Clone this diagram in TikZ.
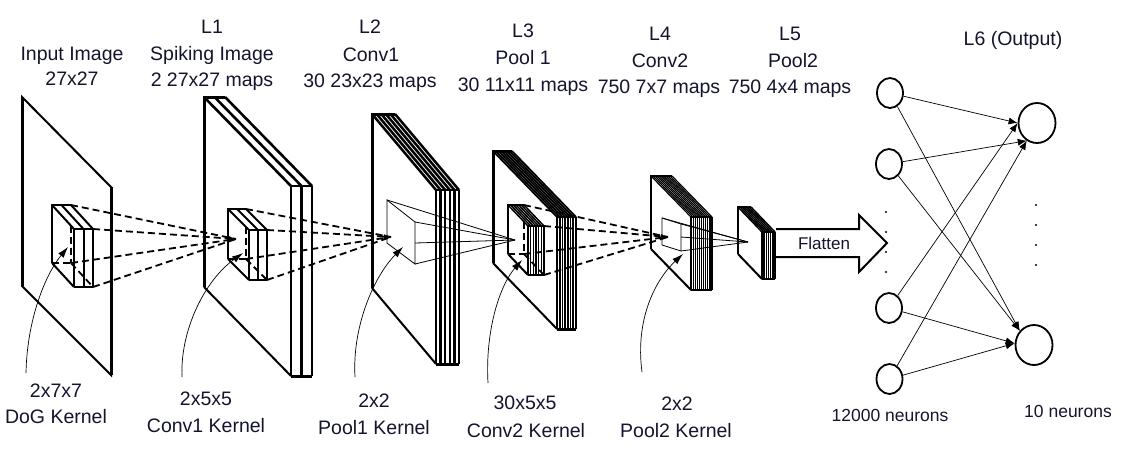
\documentclass[tikz,border=0pt]{standalone}
\usepackage{fontspec}
\setmainfont{Liberation Sans}
\usetikzlibrary{arrows.meta,shapes.geometric}
\definecolor{txt}{RGB}{20,20,45}
% #1 x0, #2 yT, #3 yB, #4 w, #5 h, #6 t, #7 n, #8 edge width, #9 stripe width
\newcommand{\mapslab}[9]{%
  \fill[white] (#1,#2) -- ++(#6,0) -- ({#1+#4+#6},{#2+#5}) -- ({#1+#4+#6},{#3+#5}) -- ({#1+#4},{#3+#5}) -- (#1,#3) -- cycle;
  \foreach \k in {0,...,#7} {
    \draw[line width=#9] ({#1+\k*#6/#7},#2) -- ({#1+#4+\k*#6/#7},{#2+#5});
    \draw[line width=#9] ({#1+#4+\k*#6/#7},{#2+#5}) -- ({#1+#4+\k*#6/#7},{#3+#5});
  }
  \draw[line width=#9] ({#1+#4},{#2+#5}) -- ++(#6,0);
  \draw[line width=2pt] (#1,#3) -- ({#1+#4},{#3+#5});
  \draw[line width=#8] (#1,#3) -- (#1,#2) -- ++(#6,0);
  \draw[line width=#8] ({#1+#4},{#3+#5}) -- ++(#6,0);
}
% hidden edges of a kernel box: #1 x0, #2 yT, #3 yB, #4 w, #5 h, #6 t
\newcommand{\hiddenedges}[6]{%
  \draw[kdash] ({#1+#6},{#2+#5*#6/#4}) -- ({#1+#6},#3);
  \draw[kdash] (#1,#3) -- ({#1+#6},#3);
  \draw[kdash] ({#1+#6},#3) -- ({#1+#4+#6},{#3+#5});
}
\begin{document}
\begin{tikzpicture}[x=1pt,y=-1pt,line join=miter,
  lbl/.style={font=\fontsize{19.5}{22}\selectfont, text=txt, anchor=base, inner sep=0pt},
  nlbl/.style={font=\fontsize{17.5}{20}\selectfont, text=txt, anchor=base, inner sep=0pt},
  kdash/.style={dash pattern=on 7pt off 4pt, line width=1.8pt},
  thinl/.style={line width=0.8pt},
  neuron/.style={ellipse, draw, line width=1.8pt, minimum width=26pt, minimum height=30pt, inner sep=0pt},
  outn/.style={ellipse, draw, line width=1.8pt, minimum width=37pt, minimum height=40pt, inner sep=0pt},
  netarrow/.style={-{Latex[length=9pt,width=7pt]}, line width=0.7pt},
  pointer/.style={-{Latex[length=11pt,width=7pt]}, line width=0.7pt},
  cvtip/.style={-{Latex[length=7pt,width=5pt]}},
]
\useasboundingbox (0,0) rectangle (1126,451);

% ---------- top labels ----------
\node[lbl] (tIn1) at (72,60) {Input Image};
\node[lbl] (tIn2) at (72,85) {27x27};
\node[lbl] (tL1a) at (212,33) {L1};
\node[lbl] (tL1b) at (212,60) {Spiking Image};
\node[lbl] (tL1c) at (212,86) {2 27x27 maps};
\node[lbl] (tL2a) at (370,33) {L2};
\node[lbl] (tL2b) at (371,61) {Conv1};
\node[lbl] (tL2c) at (370,87) {30 23x23 maps};
\node[lbl] (tL3a) at (523,37) {L3};
\node[lbl] (tL3b) at (523,64) {Pool 1};
\node[lbl] (tL3c) at (523,91) {30 11x11 maps};
\node[lbl] (tL4a) at (660,40) {L4};
\node[lbl] (tL4b) at (660,67) {Conv2};
\node[lbl] (tL4c) at (659,93) {750 7x7 maps};
\node[lbl] (tL5a) at (790,40) {L5};
\node[lbl] (tL5b) at (793,67) {Pool2};
\node[lbl] (tL5c) at (790,93) {750 4x4 maps};
\node[lbl] (tL6) at (1013,45) {L6 (Output)};

% ---------- bottom labels ----------
\node[lbl] (bK0a) at (56,397) {2x7x7};
\node[lbl] (bK0b) at (56,423) {DoG Kernel};
\node[lbl] (bK1a) at (206,405) {2x5x5};
\node[lbl] (bK1b) at (206,432) {Conv1 Kernel};
\node[lbl] (bK2a) at (374,407) {2x2};
\node[lbl] (bK2b) at (374,434) {Pool1 Kernel};
\node[lbl] (bK3a) at (525,409) {30x5x5};
\node[lbl] (bK3b) at (526,437) {Conv2 Kernel};
\node[lbl] (bK4a) at (677,410) {2x2};
\node[lbl] (bK4b) at (676,437) {Pool2 Kernel};
\node[nlbl] (bN1) at (890,421) {12000 neurons};
\node[nlbl] (bN2) at (1068,417) {10 neurons};

% ---------- input plane ----------
\draw[line width=2pt] (22,97) -- (111,187) -- (111,375) -- (22,286) -- cycle;
\draw[line width=3pt] (22,97) -- (22,286);
\draw[line width=3pt] (111,187) -- (111,375);

% ---------- feature map stacks ----------
\mapslab{204}{97}{287}{87}{89}{21}{2}{3pt}{2.6pt}
\mapslab{372}{114}{288}{64}{76}{23}{5}{3pt}{2.5pt}
\mapslab{493}{151}{263}{64}{66}{19}{7}{3pt}{1.8pt}
\mapslab{651}{176}{249}{40}{41}{21}{10}{2.8pt}{1.2pt}
\mapslab{738}{207}{254}{24}{25}{13}{6}{2.6pt}{1.5pt}

% ---------- kernels ----------
\mapslab{52}{205}{263}{22}{24}{19}{2}{2pt}{2pt}
\hiddenedges{52}{205}{263}{22}{24}{19}
\mapslab{228}{209}{259}{21}{21}{18}{2}{2pt}{2pt}
\hiddenedges{228}{209}{259}{21}{21}{18}
\mapslab{508}{205}{254}{20}{21}{16}{6}{2pt}{1.5pt}
\hiddenedges{508}{205}{254}{20}{21}{16}
% thin pooling kernels
\draw[thinl] (387,200) -- (415,222) -- (415,264) -- (387,243) -- cycle;
\draw[thinl] (662,218) -- (681,224) -- (681,251) -- (662,245) -- cycle;

% corner coordinates
\coordinate (k0a) at (71,205); \coordinate (k0b) at (93,229);
\coordinate (k0c) at (71,263); \coordinate (k0d) at (93,287);
\coordinate (k1a) at (246,209); \coordinate (k1b) at (267,230);
\coordinate (k1c) at (246,259); \coordinate (k1d) at (267,280);
\coordinate (k3a) at (524,205); \coordinate (k3b) at (544,226);
\coordinate (k3c) at (524,254); \coordinate (k3d) at (544,275);
\coordinate (k2a) at (387,200); \coordinate (k2b) at (415,222);
\coordinate (k2c) at (415,243); \coordinate (k2d) at (415,264);
\coordinate (k4a) at (662,218); \coordinate (k4b) at (681,224);
\coordinate (k4c) at (681,237); \coordinate (k4d) at (681,251);
\coordinate (P1) at (236,239);
\coordinate (P2) at (391,237);
\coordinate (P3) at (515,240);
\coordinate (P4) at (668,237);
\coordinate (P5) at (748,242);

% ---------- receptive field lines ----------
\draw[kdash] (k0a) -- (P1);
\draw[kdash,cvtip] (k0b) -- (P1);
\draw[kdash] (k0c) -- (P1);
\draw[kdash] (k0d) -- (P1);
\draw[kdash] (k1a) -- (P2);
\draw[kdash,cvtip] (k1b) -- (P2);
\draw[kdash] (k1c) -- (P2);
\draw[kdash] (k1d) -- (P2);
\draw[thinl] (k2a) -- (P3);
\draw[thinl] (k2b) -- (P3);
\draw[thinl] (k2c) -- (P3);
\draw[thinl] (k2d) -- (P3);
\draw[kdash] (k3a) -- (P4);
\draw[kdash,cvtip] (k3b) -- (P4);
\draw[kdash] (k3c) -- (P4);
\draw[kdash] (k3d) -- (P4);
\draw[thinl] (k4a) -- (P5);
\draw[thinl] (k4b) -- (P5);
\draw[thinl] (k4c) -- (P5);
\draw[thinl] (k4d) -- (P5);

% ---------- kernel pointers ----------
\coordinate (s0) at (26,373); \coordinate (e0) at (68,247);
\coordinate (s1) at (182,377); \coordinate (e1) at (243,253);
\coordinate (s2) at (355,377); \coordinate (e2) at (403,247);
\coordinate (s3) at (488,383); \coordinate (e3) at (522,260);
\coordinate (s4) at (642,372); \coordinate (e4) at (683,254);
\draw[pointer] (s0) .. controls (27,320) and (45,275) .. (e0);
\draw[pointer] (s1) .. controls (180,330) and (205,280) .. (e1);
\draw[pointer] (s2) .. controls (352,325) and (375,275) .. (e2);
\draw[pointer] (s3) .. controls (485,330) and (500,285) .. (e3);
\draw[pointer] (s4) .. controls (635,320) and (655,280) .. (e4);

% ---------- flatten arrow ----------
\draw[line width=2pt, fill=white] (776,229) -- (859,229) -- (859,215) -- (887,243) -- (859,272) -- (859,257) -- (776,257);
\node[font=\fontsize{17}{20}\selectfont, text=txt, inner sep=0pt] (flat) at (824,243) {Flatten};

% ---------- fully connected ----------
\node[neuron] (N1) at (890,93) {};
\node[neuron] (N2) at (889,164) {};
\node[neuron] (N3) at (889,308) {};
\node[neuron] (N4) at (889.5,379) {};
\node[outn] (R1) at (1037,123) {};
\node[outn] (R2) at (1034,345) {};
\foreach \yy in {212,232,252,272} \fill (886,\yy) circle (1.1pt);
\foreach \yy in {205,225,245,265} \fill (1036,\yy) circle (1.1pt);
\draw[netarrow] (N1) -- (R1.west);
\draw[netarrow] (N3) -- (R1.west);
\draw[netarrow] (N2) -- (R1.240);
\draw[netarrow] (N4) -- (R1.240);
\draw[netarrow] (N1) -- (R2.135);
\draw[netarrow] (N2) -- (R2.135);
\draw[netarrow] (N3) -- (R2.175);
\draw[netarrow] (N4) -- (R2.175);
\end{tikzpicture}
\end{document}
